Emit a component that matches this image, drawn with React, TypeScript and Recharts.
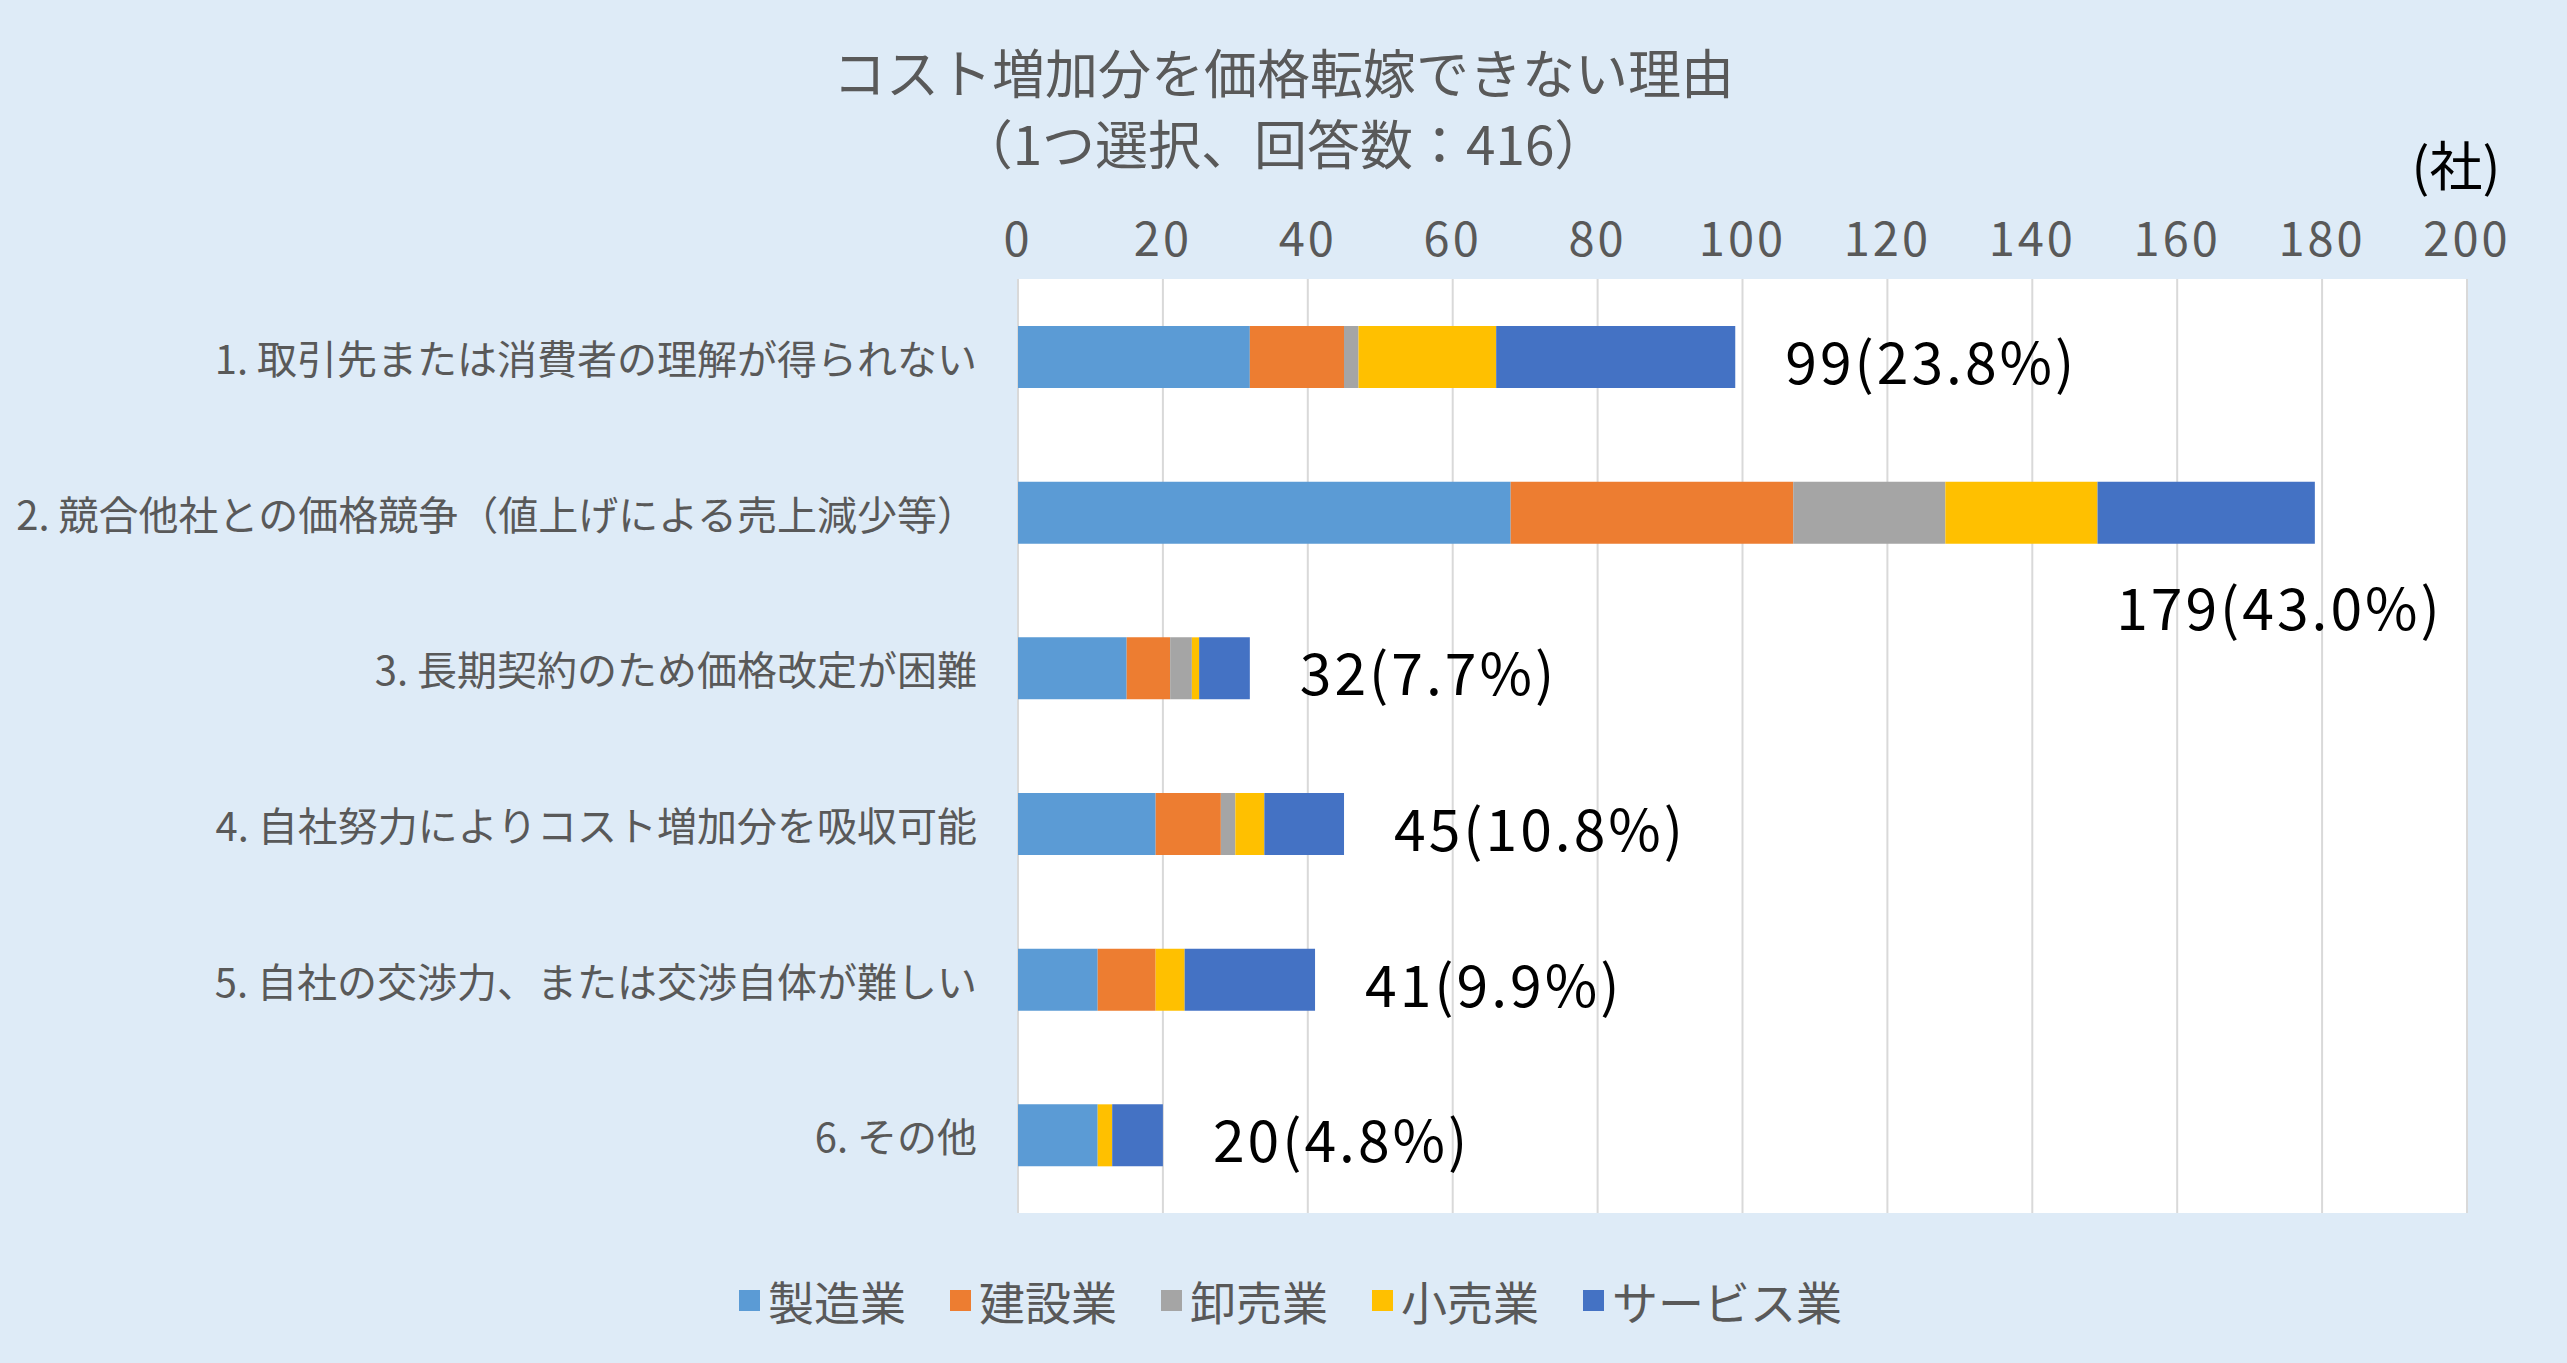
import React from 'react';
import { BarChart, Bar, XAxis, YAxis, CartesianGrid, Legend, LabelList } from 'recharts';

const categories = [
  '1. 取引先または消費者の理解が得られない',
  '2. 競合他社との価格競争（値上げによる売上減少等）',
  '3. 長期契約のため価格改定が困難',
  '4. 自社努力によりコスト増加分を吸収可能',
  '5. 自社の交渉力、または交渉自体が難しい',
  '6. その他',
];
const manufacturing = [32, 68, 15, 19, 11, 11];
const construction = [13, 39, 6, 9, 8, 0];
const wholesale = [2, 21, 3, 2, 0, 0];
const retail = [19, 21, 1, 4, 4, 2];
const service = [33, 30, 7, 11, 18, 7];
const respondents = 416;
const xTicks = [0, 20, 40, 60, 80, 100, 120, 140, 160, 180, 200];

const seriesDefs = [
  { key: 'manufacturing', name: '製造業', color: '#5B9BD5', values: manufacturing },
  { key: 'construction', name: '建設業', color: '#ED7D31', values: construction },
  { key: 'wholesale', name: '卸売業', color: '#A5A5A5', values: wholesale },
  { key: 'retail', name: '小売業', color: '#FFC000', values: retail },
  { key: 'service', name: 'サービス業', color: '#4472C4', values: service },
];

const data = categories.map((name, i) => {
  const row: any = { name };
  seriesDefs.forEach((s) => (row[s.key] = s.values[i]));
  return row;
});
const totals = categories.map((_, i) => seriesDefs.reduce((a, s) => a + s.values[i], 0));

const FONT = "'Noto Sans CJK JP', 'Noto Sans', sans-serif";
const GRAY = '#595959';
const W = 2567;
const H = 1363;

const CatTick = (props: any) => {
  const { x, y, payload } = props;
  return (
    <text x={x} y={y} textAnchor="end" dominantBaseline="central" fontSize={40} fill={GRAY} fontFamily={FONT}>
      {payload.value}
    </text>
  );
};

const ValTick = (props: any) => {
  const { x, y, payload } = props;
  return (
    <text x={x} y={y} dy={-44} textAnchor="middle" dominantBaseline="central" fontSize={47} letterSpacing={3} fill={GRAY} fontFamily={FONT}>
      {payload.value}
    </text>
  );
};

const TotalLabel = (props: any) => {
  const { index } = props;
  const vb = props.viewBox || props;
  const x = Number(vb.x);
  const y = Number(vb.y);
  const w = Number(vb.width);
  const h = Number(vb.height);
  const total = totals[index];
  const text = `${total}(${((total / respondents) * 100).toFixed(1)}%)`;
  const special = index === 1;
  return (
    <text
      x={special ? x + w + 128 : x + w + 50}
      y={special ? y + h / 2 + 92 : y + h / 2 + 2}
      textAnchor={special ? 'end' : 'start'}
      dominantBaseline="central"
      fontSize={57}
      letterSpacing={3}
      fill="#000000"
      fontFamily={FONT}
    >
      {text}
    </text>
  );
};

const LegendContent = () => (
  <div
    style={{
      height: 50,
      display: 'flex',
      justifyContent: 'center',
      alignItems: 'center',
      gap: 44,
      paddingLeft: 14,
      fontFamily: FONT,
      fontSize: 46,
      color: GRAY,
    }}
  >
    {seriesDefs.map((s) => (
      <div key={s.key} style={{ display: 'flex', alignItems: 'center', gap: 8 }}>
        <div style={{ width: 21, height: 21, background: s.color }} />
        <span style={{ lineHeight: '50px' }}>{s.name}</span>
      </div>
    ))}
  </div>
);

export default function App() {
  return (
    <div style={{ position: 'absolute', left: 0, top: 0, width: W, height: H, background: '#DEEBF7', overflow: 'hidden' }}>
      <div
        style={{
          position: 'absolute',
          left: 0,
          top: 36,
          width: W,
          textAlign: 'center',
          fontFamily: FONT,
          fontSize: 53,
          lineHeight: '71px',
          color: GRAY,
        }}
      >
        <div>コスト増加分を価格転嫁できない理由</div>
        <div>（1つ選択、回答数：416）</div>
      </div>
      <div
        style={{
          position: 'absolute',
          left: 2356,
          top: 133,
          width: 200,
          textAlign: 'center',
          fontFamily: FONT,
          fontSize: 53,
          lineHeight: '60px',
          color: '#000000',
        }}
      >
        (社)
      </div>
      <div style={{ position: 'absolute', left: 0, top: 0 }}>
        <BarChart
          width={W}
          height={H}
          data={data}
          layout="vertical"
          margin={{ top: 229, right: 100, bottom: 100, left: 0 }}
          barSize={62}
        >
          <CartesianGrid horizontal={false} vertical={true} stroke="#D9D9D9" strokeWidth={2} fill="#FFFFFF" />
          <XAxis
            type="number"
            orientation="top"
            domain={[0, 200]}
            ticks={xTicks}
            axisLine={false}
            tickLine={false}
            tickSize={0}
            tickMargin={0}
            height={50}
            tick={<ValTick />}
            interval={0}
          />
          <YAxis
            type="category"
            dataKey="name"
            width={1018}
            axisLine={false}
            tickLine={false}
            tickSize={0}
            tickMargin={41}
            tick={<CatTick />}
            interval={0}
          />
          <Legend
            verticalAlign="bottom"
            content={<LegendContent />}
            wrapperStyle={{ left: 0, top: 1275, bottom: 'auto', width: W, height: 50 }}
          />
          {seriesDefs.map((s, i) => (
            <Bar key={s.key} dataKey={s.key} name={s.name} stackId="a" fill={s.color} isAnimationActive={false}>
              {i === seriesDefs.length - 1 ? <LabelList dataKey={s.key} content={<TotalLabel />} /> : null}
            </Bar>
          ))}
        </BarChart>
      </div>
    </div>
  );
}
